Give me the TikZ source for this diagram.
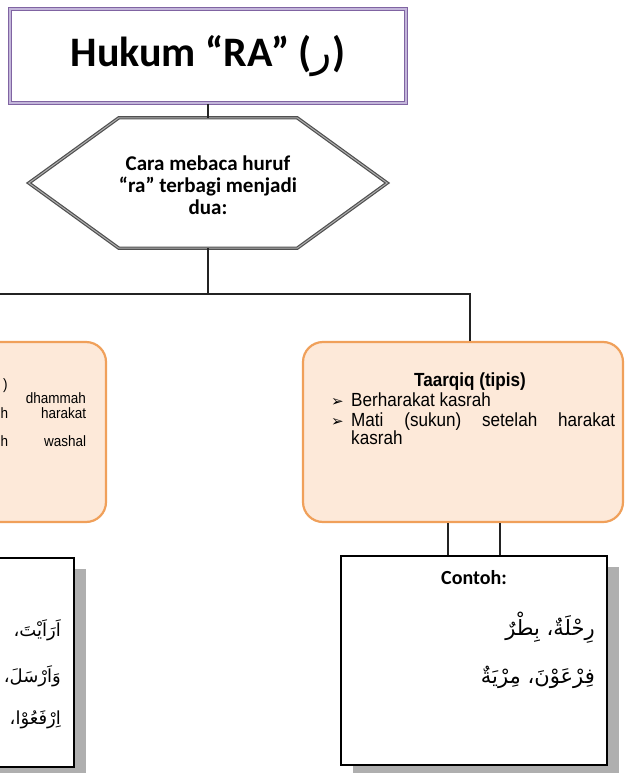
\documentclass[tikz,border=0pt]{standalone}
\usepackage{fontspec}
\setmainfont{Carlito}
\newfontfamily\narrowfont[FakeStretch=0.9]{Liberation Sans}
\newfontfamily\arabicfont[Script=Arabic]{DejaVu Sans}
\newfontfamily\symbolfont{DejaVu Sans}
\TeXXeTstate=1
\usetikzlibrary{calc,shadows}
\definecolor{titlepurple}{RGB}{128,100,162}
\definecolor{titleinner}{RGB}{195,182,218}
\definecolor{hexgray}{RGB}{80,80,80}
\definecolor{hexinner}{RGB}{175,175,175}
\definecolor{peach}{RGB}{253,233,217}
\definecolor{peachline}{RGB}{240,160,90}
\definecolor{linecol}{RGB}{35,35,35}
\definecolor{shadowgray}{RGB}{175,175,175}
\begin{document}
\begin{tikzpicture}[x=1pt,y=-1pt,
  connector/.style={draw=linecol, line width=2.5pt},
  titlebox/.style={draw=titlepurple, double=titleinner, double distance=1.2pt, line width=1.6pt, fill=white, minimum width=396pt, minimum height=94pt, inner sep=0pt, font=\bfseries\fontsize{42}{48}\selectfont},
  hextext/.style={font=\bfseries\fontsize{21}{22}\selectfont, align=center, minimum width=178pt, minimum height=130pt, inner sep=0pt},
  hexline/.style={draw=hexgray, double=hexinner, line width=1.2pt, double distance=1pt, fill=white},
  orangebox/.style={draw=peachline, fill=peach, line width=2.2pt, rounded corners=20pt, minimum width=320pt, minimum height=180pt},
  contohbox/.style={draw=black, line width=1.8pt, fill=white, minimum width=266pt, minimum height=209pt, drop shadow={shadow xshift=12pt, shadow yshift=-11pt, fill=shadowgray, opacity=1}},
  bodytext/.style={inner sep=0pt, font=\narrowfont\fontsize{19}{20}\selectfont},
  lefttext/.style={inner sep=0pt, font=\narrowfont\fontsize{15}{16}\selectfont},
  bullet/.style={inner sep=0pt, font=\symbolfont\fontsize{15}{16}\selectfont},
  arab/.style={inner sep=0pt, anchor=east, font=\arabicfont\fontsize{21}{26}\selectfont},
  arabsmall/.style={arab, font=\arabicfont\fontsize{18}{24}\selectfont}
]
\useasboundingbox (0,0) rectangle (626,773);
\fill[white] (0,0) rectangle (626,773);
\begin{scope}
\clip (0,0) rectangle (626,773);

% title
\node[titlebox] (title) at (208,56) {Hukum “RA” ({\mdseries\arabicfont\beginR ر\endR})};

% hexagon
\node[hextext] (hex) at (208,183) {};
\draw[hexline] (hex.north west) -- (hex.north east) -- ([xshift=90pt]hex.east) -- (hex.south east) -- (hex.south west) -- ([xshift=-90pt]hex.west) -- cycle;
\node[hextext] (hexlabel) at (208,185) {Cara mebaca huruf\\“ra” terbagi menjadi\\dua:};

% boxes
\node[orangebox] (tafkhim) at (-54,432) {};
\node[orangebox] (tarqiq) at (463,432) {};
\node[contohbox] (contohL) at (-59,662.5) {};
\node[contohbox] (contohR) at (474,660.5) {};

% connectors
\coordinate (lend) at (0,294);
\draw[connector] (title.south) -- (title.south |- hex.north);
\draw[connector] (hex.south) -- (hex.south |- lend);
\draw[connector] (lend) -| ([xshift=7pt]tarqiq.north);
\draw[connector] ([xshift=-26pt]contohR.north) -- ([xshift=-26pt]contohR.north |- tarqiq.south);
\draw[connector] ([xshift=26pt]contohR.north) -- ([xshift=26pt]contohR.north |- tarqiq.south);

% right orange box text
\node[bodytext, font=\narrowfont\bfseries\fontsize{19}{20}\selectfont, anchor=base] (tqtitle) at (470,386) {Taarqiq (tipis)};
\node[bullet, anchor=base west] (b1) at (331,406) {➢};
\node[bodytext, anchor=base west] (t1) at (351,406) {Berharakat kasrah};
\node[bullet, anchor=base west] (b2) at (331,426) {➢};
\node[bodytext, anchor=base west] (t2) at (351,426) {\makebox[264pt][s]{Mati (sukun) setelah harakat}};
\node[bodytext, anchor=base west] (t3) at (351,444) {kasrah};

% left orange box visible text
\node[lefttext, anchor=base west] (l0) at (3,389) {)};
\node[lefttext, anchor=base east] (l1) at (86,403) {dhammah};
\node[lefttext, anchor=base west] (l2) at (0.5,418) {\makebox[85.5pt][s]{h harakat}};
\node[lefttext, anchor=base west] (l3) at (0.5,446) {\makebox[85.5pt][s]{h washal}};

% right contoh
\node[font=\bfseries\fontsize{20}{24}\selectfont] (contohlbl) at (474,578) {Contoh:};
\node[arab] (arR1) at (595,628) {\beginR رِحْلَةٌ، بِطْرٌ\endR};
\node[arab] (arR2) at (595,677) {\beginR فِرْعَوْنَ، مِرْيَةٌ\endR};

% left contoh visible text
\node[arabsmall] (arL1) at (61,630) {\beginR اَرَاَيْتَ،\endR};
\node[arabsmall] (arL2) at (61,676) {\beginR وَاَرْسَلَ،\endR};
\node[arabsmall] (arL3) at (61,720) {\beginR اِرْفَعُوْا،\endR};
\end{scope}
\end{tikzpicture}
\end{document}
